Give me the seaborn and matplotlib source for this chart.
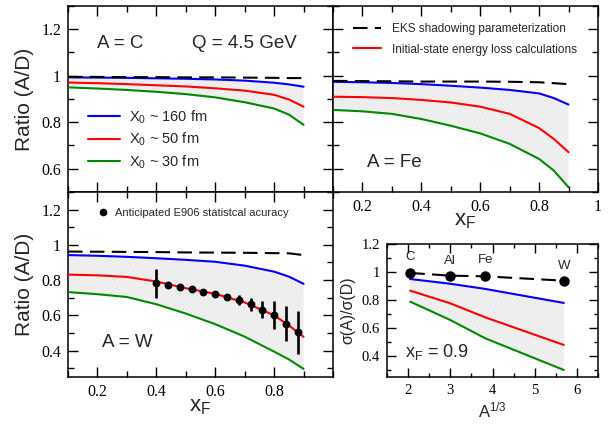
import matplotlib
matplotlib.use("Agg")
import matplotlib.pyplot as plt
import seaborn as sns
import pandas as pd
from matplotlib.lines import Line2D
from matplotlib.ticker import FixedLocator, MultipleLocator, FuncFormatter

# ---------------- data ----------------
xf = [0.1, 0.2, 0.3, 0.4, 0.5, 0.6, 0.7, 0.8, 0.85, 0.9]

eks_c   = [0.995, 0.995, 0.994, 0.994, 0.993, 0.993, 0.992, 0.991, 0.990, 0.990]
blue_c  = [0.993, 0.992, 0.991, 0.989, 0.987, 0.984, 0.979, 0.970, 0.963, 0.953]
red_c   = [0.971, 0.968, 0.964, 0.959, 0.954, 0.946, 0.936, 0.918, 0.898, 0.867]
green_c = [0.950, 0.945, 0.939, 0.931, 0.921, 0.907, 0.886, 0.859, 0.833, 0.789]

eks_fe   = [0.978, 0.977, 0.976, 0.975, 0.975, 0.975, 0.974, 0.972, 0.968, 0.964]
blue_fe  = [0.974, 0.972, 0.969, 0.964, 0.957, 0.949, 0.939, 0.924, 0.904, 0.876]
red_fe   = [0.910, 0.908, 0.904, 0.896, 0.885, 0.867, 0.836, 0.775, 0.728, 0.671]
green_fe = [0.853, 0.847, 0.836, 0.814, 0.785, 0.752, 0.707, 0.642, 0.592, 0.520]

eks_w   = [0.962, 0.961, 0.960, 0.959, 0.957, 0.956, 0.955, 0.953, 0.952, 0.942]
blue_w  = [0.942, 0.938, 0.932, 0.924, 0.915, 0.904, 0.882, 0.848, 0.820, 0.779]
red_w   = [0.831, 0.827, 0.818, 0.792, 0.754, 0.722, 0.673, 0.600, 0.543, 0.478]
green_w = [0.732, 0.720, 0.704, 0.663, 0.610, 0.550, 0.479, 0.394, 0.350, 0.296]

e906_x   = [0.40, 0.44, 0.48, 0.52, 0.56, 0.60, 0.64, 0.68, 0.72, 0.76, 0.80, 0.84, 0.88]
e906_y   = [0.782, 0.775, 0.760, 0.747, 0.735, 0.722, 0.703, 0.685, 0.662, 0.632, 0.600, 0.553, 0.503]
e906_err = [0.083, 0.015, 0.015, 0.015, 0.015, 0.015, 0.015, 0.028, 0.037, 0.049, 0.080, 0.100, 0.122]

nuclei   = ["C", "Al", "Fe", "W"]
a13      = [2.05, 3.00, 3.83, 5.69]
eks_09   = [0.993, 0.974, 0.969, 0.938]
blue_09  = [0.950, 0.916, 0.879, 0.779]
red_09   = [0.867, 0.776, 0.676, 0.479]
green_09 = [0.788, 0.657, 0.526, 0.300]
nuc_lab_y = [1.109, 1.080, 1.088, 1.045]

legend_x0 = ["X$_0$ ~ 160 fm", "X$_0$ ~ 50 fm", "X$_0$ ~ 30 fm"]

# ---------------- style ----------------
sns.set_style("ticks")
plt.rcParams["font.family"] = ["Liberation Sans", "DejaVu Sans"]
plt.rcParams["mathtext.fontset"] = "custom"
plt.rcParams["mathtext.rm"] = "Liberation Sans"
plt.rcParams["mathtext.it"] = "Liberation Sans:italic"
plt.rcParams["mathtext.bf"] = "Liberation Sans:bold"
plt.rcParams["mathtext.sf"] = "Liberation Sans"
plt.rcParams["hatch.linewidth"] = 0.3

BLUE, RED, GREEN = "#0000ff", "#ff0000", "#008800"
SERIF = "Liberation Serif"

fig = plt.figure(figsize=(6.09, 4.24), dpi=100)
W, H = 609, 424


def axpx(l, t, r, b):
    return fig.add_axes([l / W, 1 - b / H, (r - l) / W, (b - t) / H])


ax_c = axpx(68, 6, 333, 192)
ax_fe = axpx(333, 6, 598, 192)
ax_w = axpx(68, 192, 333, 377)
ax_a = axpx(387, 244, 598, 377)

fmt = FuncFormatter(lambda v, p: f"{v:g}")


def style_axes(ax, big=True):
    for s in ax.spines.values():
        s.set_linewidth(1.1)
        s.set_color("black")
    ax.tick_params(which="both", direction="in", top=True, right=True,
                   bottom=True, left=True, width=1.0, colors="black",
                   labelfontfamily=SERIF, labelsize=11.5 if big else 10.5,
                   pad=5)
    ax.tick_params(which="major", length=7.5 if big else 6.5)
    ax.tick_params(which="minor", length=4 if big else 3.2)
    ax.set_facecolor("white")
    ax.xaxis.set_major_formatter(fmt)
    ax.yaxis.set_major_formatter(fmt)
    ax.set_xlabel("")
    ax.set_ylabel("")


def draw_curves(ax, x, eks, blue, red, green, marker=None):
    ax.fill_between(x, green, blue, facecolor="#f1f1f1", edgecolor="#dedede",
                    hatch="////////", linewidth=0, zorder=1)
    for ys, col in ((blue, BLUE), (red, RED), (green, GREEN)):
        sns.lineplot(x=x, y=ys, ax=ax, color=col, lw=1.5, zorder=3,
                     estimator=None, sort=False)
    sns.lineplot(x=x, y=eks, ax=ax, color="black", lw=1.5, zorder=4,
                 estimator=None, sort=False, marker=marker,
                 markersize=7.5, markeredgewidth=0)
    ax.lines[-1].set_dashes((7, 3.5))


draw_curves(ax_c, xf, eks_c, blue_c, red_c, green_c)
draw_curves(ax_fe, xf, eks_fe, blue_fe, red_fe, green_fe)
draw_curves(ax_w, xf, eks_w, blue_w, red_w, green_w)
draw_curves(ax_a, a13, eks_09, blue_09, red_09, green_09, marker="o")

# E906 points
ax_w.errorbar(e906_x, e906_y, yerr=e906_err, fmt="none", ecolor="black",
              elinewidth=1.9, capsize=0, zorder=5)
sns.scatterplot(x=e906_x, y=e906_y, ax=ax_w, s=32, color="black",
                linewidth=0, zorder=6)

# limits & ticks
for ax in (ax_c, ax_fe, ax_w):
    ax.set_xlim(0.1, 1.0)
    style_axes(ax)
    ax.xaxis.set_minor_locator(MultipleLocator(0.1))
    ax.yaxis.set_minor_locator(MultipleLocator(0.1))

ax_c.set_ylim(0.5, 1.3)
ax_fe.set_ylim(0.5, 1.3)
ax_w.set_ylim(0.25, 1.3)
for ax in (ax_c, ax_fe):
    ax.yaxis.set_major_locator(FixedLocator([0.6, 0.8, 1.0, 1.2]))
ax_w.yaxis.set_major_locator(FixedLocator([0.4, 0.6, 0.8, 1.0, 1.2]))
ax_c.xaxis.set_major_locator(FixedLocator([0.2, 0.4, 0.6, 0.8]))
ax_w.xaxis.set_major_locator(FixedLocator([0.2, 0.4, 0.6, 0.8]))
ax_fe.xaxis.set_major_locator(FixedLocator([0.2, 0.4, 0.6, 0.8, 1.0]))
ax_c.tick_params(labelbottom=False)
ax_fe.tick_params(labelleft=False)

ax_a.set_xlim(1.5, 6.5)
ax_a.set_ylim(0.25, 1.2)
style_axes(ax_a, big=False)
ax_a.xaxis.set_major_locator(FixedLocator([2, 3, 4, 5, 6]))
ax_a.xaxis.set_minor_locator(MultipleLocator(0.5))
ax_a.yaxis.set_major_locator(FixedLocator([0.4, 0.6, 0.8, 1.0, 1.2]))
ax_a.yaxis.set_minor_locator(MultipleLocator(0.1))

# texts
ax_c.text(0.109, 0.80, "A = C", transform=ax_c.transAxes, fontsize=13.5, va="center")
ax_c.text(0.468, 0.80, "Q = 4.5 GeV", transform=ax_c.transAxes, fontsize=13.5, va="center")
ax_fe.text(0.128, 0.16, "A = Fe", transform=ax_fe.transAxes, fontsize=13.5, va="center")
ax_w.text(0.128, 0.184, "A = W", transform=ax_w.transAxes, fontsize=13.5, va="center")
ax_a.text(0.085, 0.19, "x$_\\mathrm{F}$ = 0.9", transform=ax_a.transAxes,
          fontsize=13, va="center")
for n, xv, yv in zip(nuclei, a13, nuc_lab_y):
    ax_a.text(xv, yv, n, fontsize=9.5, ha="center", va="center")

# legends
h1 = [Line2D([], [], color=c, lw=1.5) for c in (BLUE, RED, GREEN)]
ax_c.legend(h1, legend_x0, loc="upper left", bbox_to_anchor=(0.075, 0.45),
            frameon=False, fontsize=10.5, handlelength=2.2,
            handletextpad=0.6, labelspacing=0.35, borderpad=0,
            borderaxespad=0)

h2 = [Line2D([], [], color="black", lw=1.5, dashes=(7, 3.5)),
      Line2D([], [], color=RED, lw=1.5)]
ax_fe.legend(h2, ["EKS shadowing parameterization",
                  "Initial-state energy loss calculations"],
             loc="upper left", bbox_to_anchor=(0.075, 0.91), frameon=False,
             fontsize=8.5, handlelength=2.4, handletextpad=0.9,
             labelspacing=0.75, borderpad=0, borderaxespad=0)

h3 = [Line2D([], [], color="black", lw=0, marker="o", markersize=4.5)]
ax_w.legend(h3, ["Anticipated E906 statistcal acuracy"], loc="upper left",
            bbox_to_anchor=(0.11, 0.915), frameon=False, fontsize=8,
            handlelength=1.0, handletextpad=0.6, borderpad=0, borderaxespad=0)

# axis labels
fig.text(25 / W, 1 - 99 / H, "Ratio (A/D)", rotation=90, fontsize=15,
         ha="center", va="center")
fig.text(25 / W, 1 - 284 / H, "Ratio (A/D)", rotation=90, fontsize=15,
         ha="center", va="center")
fig.text(200 / W, 1 - 411 / H, "x$_\\mathrm{F}$", fontsize=16, ha="center",
         va="baseline")
fig.text(465 / W, 1 - 225 / H, "x$_\\mathrm{F}$", fontsize=16, ha="center",
         va="baseline")
fig.text(348 / W, 1 - 310 / H, "σ(A)/σ(D)", rotation=90, fontsize=11.5,
         ha="center", va="center")
fig.text(492 / W, 1 - 417 / H, "A$^{1/3}$", fontsize=12, ha="center",
         va="baseline")

fig.savefig("out.png", dpi=100, facecolor="white")
